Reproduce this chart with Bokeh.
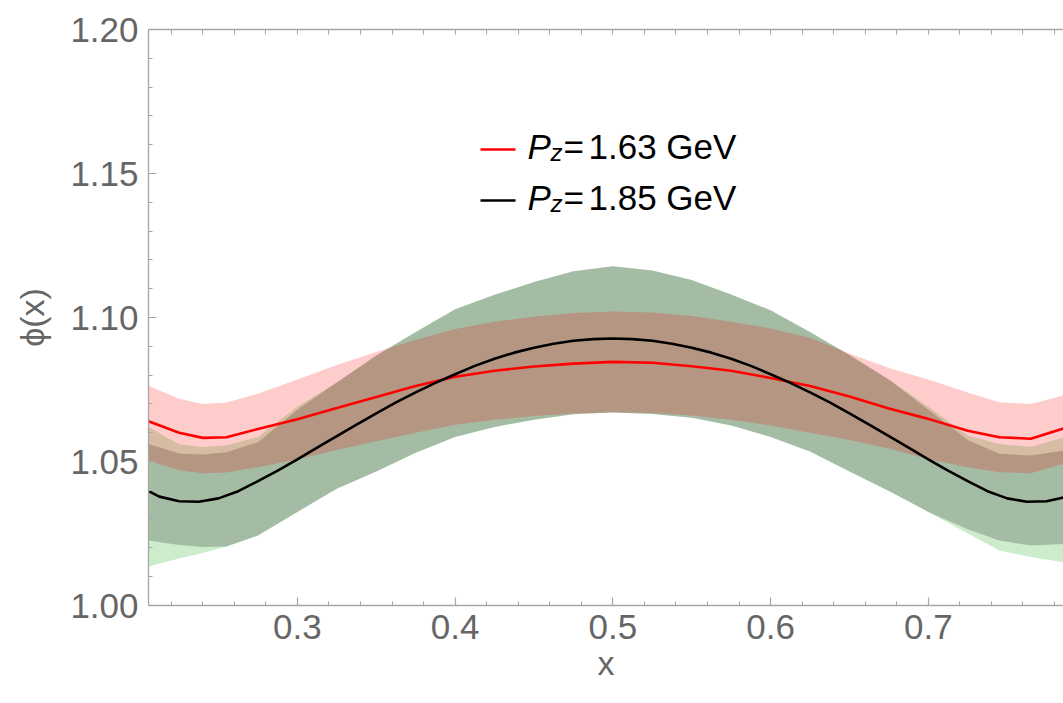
from bokeh.plotting import figure
from bokeh.models import Range1d, LinearAxis, FixedTicker, BoxAnnotation, Label
from bokeh.embed import file_html
from bokeh.resources import INLINE

# sample points in x for the bands and the P_z = 1.63 GeV curve
x = [0.2056, 0.225, 0.24, 0.255, 0.275, 0.30, 0.325, 0.35, 0.375, 0.40, 0.425, 0.45, 0.475,
     0.50, 0.525, 0.55, 0.575, 0.60, 0.625, 0.65, 0.675, 0.70, 0.725, 0.745, 0.765, 0.7857]

# P_z = 1.63 GeV: central curve and its band
red_mid = [1.0640, 1.0600, 1.0582, 1.0584, 1.0613, 1.0647, 1.0686, 1.0724, 1.0762, 1.0794, 1.0815,
           1.0830, 1.0840, 1.0846, 1.0843, 1.0831, 1.0815, 1.0790, 1.0762, 1.0726, 1.0684, 1.0648,
           1.0607, 1.0584, 1.0579, 1.0615]
red_hi = [1.0763, 1.0718, 1.0700, 1.0705, 1.0735, 1.0785, 1.0835, 1.0880, 1.0922, 1.0960, 1.0985,
          1.1003, 1.1016, 1.1021, 1.1017, 1.1005, 1.0985, 1.0962, 1.0930, 1.0875, 1.0825, 1.0785,
          1.0740, 1.0706, 1.0700, 1.0730]
red_lo = [1.0503, 1.0470, 1.0459, 1.0462, 1.0480, 1.0508, 1.0540, 1.0570, 1.0600, 1.0628, 1.0645,
          1.0658, 1.0667, 1.0671, 1.0668, 1.0660, 1.0645, 1.0625, 1.0600, 1.0575, 1.0545, 1.0508,
          1.0480, 1.0463, 1.0459, 1.0492]

# P_z = 1.85 GeV: outer and inner bands
outer_hi = [1.0620, 1.0560, 1.0550, 1.0556, 1.0585, 1.0690, 1.0774, 1.0868, 1.0950, 1.1029, 1.1079,
            1.1123, 1.1161, 1.1178, 1.1163, 1.1130, 1.1080, 1.1025, 1.0950, 1.0870, 1.0785, 1.0690,
            1.0590, 1.0561, 1.0550, 1.0584]
outer_lo = [1.0135, 1.0163, 1.0182, 1.0205, 1.0243, 1.0325, 1.0405, 1.0465, 1.0530, 1.0585, 1.0620,
            1.0645, 1.0664, 1.0670, 1.0665, 1.0652, 1.0625, 1.0585, 1.0535, 1.0465, 1.0398, 1.0325,
            1.0250, 1.0191, 1.0168, 1.0150]
inner_hi = [1.0561, 1.0528, 1.0524, 1.0532, 1.0567, 1.0680, 1.0774, 1.0868, 1.0950, 1.1029, 1.1079,
            1.1123, 1.1161, 1.1178, 1.1163, 1.1130, 1.1080, 1.1025, 1.0950, 1.0870, 1.0785, 1.0680,
            1.0575, 1.0527, 1.0521, 1.0538]
inner_lo = [1.0226, 1.0210, 1.0203, 1.0205, 1.0243, 1.0325, 1.0405, 1.0465, 1.0530, 1.0585, 1.0620,
            1.0645, 1.0664, 1.0670, 1.0665, 1.0652, 1.0625, 1.0585, 1.0535, 1.0465, 1.0398, 1.0325,
            1.0265, 1.0226, 1.0208, 1.0214]

# P_z = 1.85 GeV central curve, sampled more finely
x_black = [0.2056, 0.2125, 0.225, 0.2375, 0.25, 0.2625, 0.275, 0.2875, 0.30, 0.3125, 0.325, 0.3375,
           0.35, 0.3625, 0.375, 0.3875, 0.40, 0.4125, 0.425, 0.4375, 0.45, 0.4625, 0.475, 0.4875,
           0.50, 0.5125, 0.525, 0.5375, 0.55, 0.5625, 0.575, 0.5875, 0.60, 0.6125, 0.625, 0.6375,
           0.65, 0.6625, 0.675, 0.6875, 0.70, 0.7125, 0.725, 0.7375, 0.75, 0.7625, 0.775, 0.7857]
black_mid = [1.0397, 1.0378, 1.0362, 1.0360, 1.0372, 1.0397, 1.0432, 1.0468, 1.0507, 1.0548, 1.0588,
             1.0628, 1.0667, 1.0705, 1.0740, 1.0773, 1.0803, 1.0832, 1.0857, 1.0878, 1.0895, 1.0909,
             1.0919, 1.0925, 1.0927, 1.0925, 1.0919, 1.0909, 1.0895, 1.0878, 1.0857, 1.0832, 1.0803,
             1.0773, 1.0740, 1.0705, 1.0667, 1.0628, 1.0588, 1.0548, 1.0507, 1.0468, 1.0432, 1.0397,
             1.0372, 1.0360, 1.0362, 1.0375]

x_major = [0.3, 0.4, 0.5, 0.6, 0.7]
x_minor = [0.22, 0.24, 0.26, 0.28, 0.32, 0.34, 0.36, 0.38, 0.42, 0.44, 0.46, 0.48,
           0.52, 0.54, 0.56, 0.58, 0.62, 0.64, 0.66, 0.68, 0.72, 0.74, 0.76, 0.78]
x_tick_labels = ["0.3", "0.4", "0.5", "0.6", "0.7"]
y_major = [1.00, 1.05, 1.10, 1.15, 1.20]
y_minor = [1.01, 1.02, 1.03, 1.04, 1.06, 1.07, 1.08, 1.09, 1.11, 1.12, 1.13, 1.14,
           1.16, 1.17, 1.18, 1.19]
y_tick_labels = ["1.00", "1.05", "1.10", "1.15", "1.20"]

legend_momenta = ["1.63", "1.85"]
legend_colors = ["#ff0000", "#000000"]

FONT = "Liberation Sans"
AXIS_GRAY = "#a6a6a6"
TEXT_GRAY = "#666666"

p = figure(width=1063, height=703,
           x_range=Range1d(0.2056, 0.7857), y_range=Range1d(1.0, 1.2),
           output_backend="svg", toolbar_location=None,
           min_border_left=148, min_border_right=0, min_border_top=29, min_border_bottom=98)
p.outline_line_color = None
p.grid.visible = False
p.background_fill_color = "white"
p.border_fill_color = "white"

# bands: outer green, inner grey, then the red band on top
p.varea(x=x, y1=outer_lo, y2=outer_hi, fill_color="#00a000", fill_alpha=0.2)
p.varea(x=x, y1=inner_lo, y2=inner_hi, fill_color="#000000", fill_alpha=0.2)
p.varea(x=x, y1=red_lo, y2=red_hi, fill_color="#ff0000", fill_alpha=0.2)

p.line(x, red_mid, line_color=legend_colors[0], line_width=2.6)
p.line(x_black, black_mid, line_color=legend_colors[1], line_width=2.6)


def style_axis(ax):
    ax.axis_line_color = AXIS_GRAY
    ax.axis_line_width = 1.3
    ax.major_tick_line_color = AXIS_GRAY
    ax.minor_tick_line_color = AXIS_GRAY
    ax.major_tick_line_width = 1.2
    ax.minor_tick_line_width = 1.0
    ax.major_tick_in = 8
    ax.major_tick_out = 0
    ax.minor_tick_in = 4
    ax.minor_tick_out = 0
    ax.major_label_text_font = FONT
    ax.major_label_text_color = TEXT_GRAY
    ax.major_label_text_font_size = "35px"
    ax.axis_label_text_font = FONT
    ax.axis_label_text_color = TEXT_GRAY
    ax.axis_label_text_font_style = "normal"
    ax.axis_label_text_font_size = "34px"


xa = p.xaxis[0]
xa.ticker = FixedTicker(ticks=x_major, minor_ticks=x_minor)
xa.major_label_overrides = {v: s for v, s in zip(x_major, x_tick_labels)}
style_axis(xa)
xa.major_label_standoff = 9
xa.axis_label = "x"
xa.axis_label_standoff = 2

ya = p.yaxis[0]
ya.ticker = FixedTicker(ticks=y_major, minor_ticks=y_minor)
ya.major_label_overrides = {v: s for v, s in zip(y_major, y_tick_labels)}
style_axis(ya)
ya.major_label_standoff = 10
ya.axis_label = "ϕ(x)"
ya.axis_label_standoff = 16

# top frame edge: tick marks only, no labels
top = LinearAxis(ticker=FixedTicker(ticks=[], minor_ticks=sorted(x_major + x_minor)))
style_axis(top)
top.minor_tick_in = 5
p.add_layout(top, "above")

# legend: short line swatches with the momentum labels
frame_left, frame_bottom = 148, 605
rows_y = [149, 200]
for py, mom, col in zip(rows_y, legend_momenta, legend_colors):
    sy = frame_bottom - py
    p.add_layout(BoxAnnotation(left=480 - frame_left, right=515 - frame_left,
                               bottom=sy - 1.3, top=sy + 1.3,
                               left_units="screen", right_units="screen",
                               bottom_units="screen", top_units="screen",
                               fill_color=col, fill_alpha=1.0, line_color=None))
    base = sy + 3
    p.add_layout(Label(x=527 - frame_left, y=base, x_units="screen", y_units="screen",
                       text="P", text_font=FONT, text_font_style="italic",
                       text_font_size="35px", text_color="black", text_baseline="alphabetic"))
    p.add_layout(Label(x=550 - frame_left, y=base - 6, x_units="screen", y_units="screen",
                       text="z", text_font=FONT, text_font_style="italic",
                       text_font_size="24px", text_color="black", text_baseline="alphabetic"))
    p.add_layout(Label(x=563 - frame_left, y=base, x_units="screen", y_units="screen",
                       text="=", text_font=FONT,
                       text_font_size="35px", text_color="black", text_baseline="alphabetic"))
    p.add_layout(Label(x=588 - frame_left, y=base, x_units="screen", y_units="screen",
                       text=mom + " GeV", text_font=FONT,
                       text_font_size="35px", text_color="black", text_baseline="alphabetic"))

open("out.html", "w").write(file_html(p, INLINE))
